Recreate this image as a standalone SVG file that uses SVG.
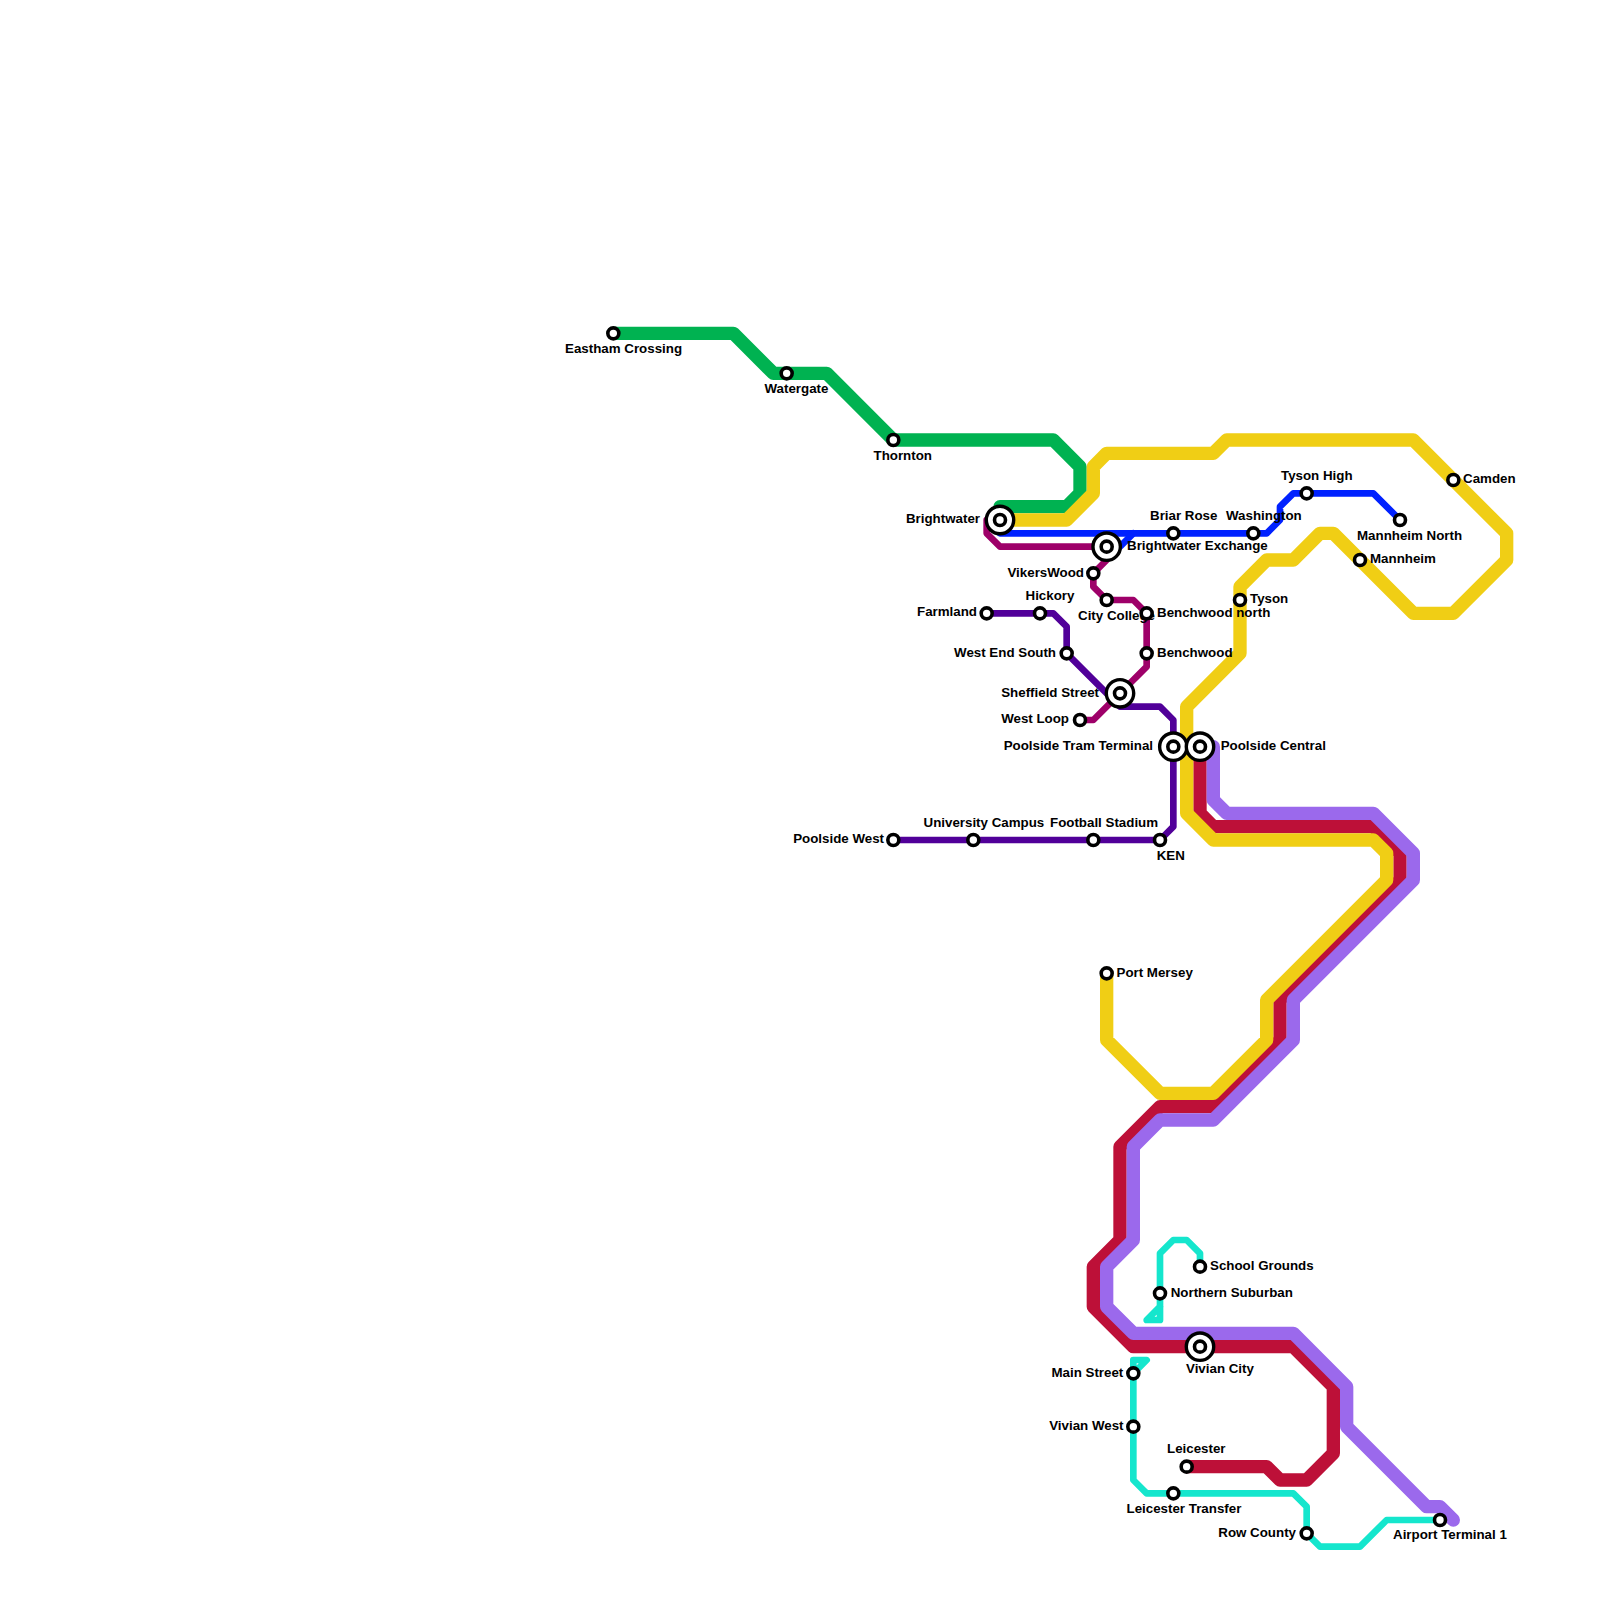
<svg xmlns="http://www.w3.org/2000/svg" xmlns:xlink="http://www.w3.org/1999/xlink" width="1600" height="1600" viewBox="0 0 1600 1600">
<style>
.l{fill:none;stroke-linejoin:round;stroke-linecap:round}
.w1{stroke-width:1}
.w2{stroke-width:.5}
text{font-family:"Liberation Sans",Arial,sans-serif;font-weight:bold;font-size:13.33px;fill:#000}
.e{text-anchor:end}
.ring{fill:#fff;stroke:#000}
</style>
<defs>
<g id="s"><circle class="ring" r="5.5" stroke-width="3.6"/></g>
<g id="x"><circle class="ring" r="13.7" stroke-width="3.4"/><circle class="ring" r="5.5" stroke-width="3.6"/></g>
</defs>
<rect width="1600" height="1600" fill="#fff"/>
<g id="connectors" transform="scale(13.33333)">
<path class="l w1" stroke="#00b251" d="M46 25H55L58 28H62L67 33H79L81 35V37L80 38H75V39"/>
<path class="l w1" stroke="#bd1038" d="M90 56V61L91 62H103L105 64V66L96 75V78L91 83H87L84 86V93L82 95V98L85 101H97L100 104V109L98 111H96L95 110H89"/>
<path class="l w1" stroke="#9b69ec" d="M90 56H91V60L92 61H103L106 64V66L97 75V78L91 84H87L85 86V93L83 95V98L85 100H97L101 104V107L107 113H108L109 114"/>
<path class="l w1" stroke="#f0ce15" d="M75 39H80L82 37V35L83 34H91L92 33H106L113 40V42L109 46H106L100 40H99L97 42H95L93 44V49L89 53V61L91 63H103L104 64V66L95 75V78L91 82H87L83 78V73"/>
<path class="l w2" stroke="#0021ff" d="M75 39V40H95L96 39V38L97 37H103L105 39"/>
<path class="l w2" stroke="#0021ff" d="M83 41H84L85 40"/>
<path class="l w2" stroke="#9e0069" d="M75 39H74V40L75 41H83V42L82 43V44L83 45H85L86 46V50L82 54H81"/>
<path class="l w2" stroke="#510099" d="M74 46H79L80 47V49L84 53H87L88 54V62L87 63H67"/>
<path class="l w2" stroke="#15e6cd" d="M90 95V94L89 93H88L87 94V99H86L87 98M86 102H85V103ZM85 102V111L86 112H97L98 113V115L99 116H102L104 114H108"/>
</g>
<g id="n-eastham"><text x="565" y="353">Eastham Crossing</text><use xlink:href="#s" href="#s" x="613.33" y="333.33"/></g>
<g id="n-watergate"><text x="764.5" y="393">Watergate</text><use xlink:href="#s" href="#s" x="786.67" y="373.33"/></g>
<g id="n-thornton"><text x="873.5" y="460">Thornton</text><use xlink:href="#s" href="#s" x="893.33" y="440"/></g>
<g id="n-brightwater"><text class="e" x="980" y="523">Brightwater</text><use xlink:href="#x" href="#x" x="1000" y="520"/></g>
<g id="n-brightwater-exchange"><text x="1127" y="550">Brightwater Exchange</text><use xlink:href="#x" href="#x" x="1106.67" y="546.67"/></g>
<g id="n-briar"><text x="1150" y="520">Briar Rose</text><use xlink:href="#s" href="#s" x="1173.33" y="533.33"/></g>
<g id="n-washington"><text x="1226" y="520">Washington</text><use xlink:href="#s" href="#s" x="1253.33" y="533.33"/></g>
<g id="n-tyson-high"><text x="1281" y="480">Tyson High</text><use xlink:href="#s" href="#s" x="1306.67" y="493.33"/></g>
<g id="n-mannheim-north"><text x="1357" y="540">Mannheim North</text><use xlink:href="#s" href="#s" x="1400" y="520"/></g>
<g id="n-camden"><text x="1463" y="483">Camden</text><use xlink:href="#s" href="#s" x="1453.33" y="480"/></g>
<g id="n-mannheim"><text x="1370" y="563">Mannheim</text><use xlink:href="#s" href="#s" x="1360" y="560"/></g>
<g id="n-tyson"><text x="1250" y="603">Tyson</text><use xlink:href="#s" href="#s" x="1240" y="600"/></g>
<g id="n-vikerswood"><text class="e" x="1084" y="577">VikersWood</text><use xlink:href="#s" href="#s" x="1093.33" y="573.33"/></g>
<g id="n-hickory"><text x="1025.5" y="600">Hickory</text><use xlink:href="#s" href="#s" x="1040" y="613.33"/></g>
<g id="n-farmland"><text class="e" x="977" y="616">Farmland</text><use xlink:href="#s" href="#s" x="986.67" y="613.33"/></g>
<g id="n-city-college"><text x="1078" y="620">City College</text><use xlink:href="#s" href="#s" x="1106.67" y="600"/></g>
<g id="n-benchwood-north"><text x="1157" y="617">Benchwood north</text><use xlink:href="#s" href="#s" x="1146.67" y="613.33"/></g>
<g id="n-benchwood"><text x="1157" y="657">Benchwood</text><use xlink:href="#s" href="#s" x="1146.67" y="653.33"/></g>
<g id="n-west-end-south"><text class="e" x="1056" y="657">West End South</text><use xlink:href="#s" href="#s" x="1066.67" y="653.33"/></g>
<g id="n-sheffield"><text class="e" x="1099" y="697">Sheffield Street</text><use xlink:href="#x" href="#x" x="1120" y="693.33"/></g>
<g id="n-west-loop"><text class="e" x="1069" y="723">West Loop</text><use xlink:href="#s" href="#s" x="1080" y="720"/></g>
<g id="n-poolside-tram"><text class="e" x="1153" y="750">Poolside Tram Terminal</text><use xlink:href="#x" href="#x" x="1173.33" y="746.67"/></g>
<g id="n-poolside-central"><text x="1220.7" y="750">Poolside Central</text><use xlink:href="#x" href="#x" x="1200" y="746.67"/></g>
<g id="n-poolside-west"><text class="e" x="884" y="843">Poolside West</text><use xlink:href="#s" href="#s" x="893.33" y="840"/></g>
<g id="n-university"><text x="923.5" y="827">University Campus</text><use xlink:href="#s" href="#s" x="973.33" y="840"/></g>
<g id="n-football"><text x="1050" y="827">Football Stadium</text><use xlink:href="#s" href="#s" x="1093.33" y="840"/></g>
<g id="n-ken"><text x="1156.7" y="860">KEN</text><use xlink:href="#s" href="#s" x="1160" y="840"/></g>
<g id="n-port-mersey"><text x="1116.5" y="977">Port Mersey</text><use xlink:href="#s" href="#s" x="1106.67" y="973.33"/></g>
<g id="n-school"><text x="1210" y="1270">School Grounds</text><use xlink:href="#s" href="#s" x="1200" y="1266.67"/></g>
<g id="n-northern"><text x="1170.7" y="1297">Northern Suburban</text><use xlink:href="#s" href="#s" x="1160" y="1293.33"/></g>
<g id="n-vivian-city"><text x="1186" y="1373">Vivian City</text><use xlink:href="#x" href="#x" x="1200" y="1346.67"/></g>
<g id="n-main"><text class="e" x="1123.3" y="1377">Main Street</text><use xlink:href="#s" href="#s" x="1133.33" y="1373.33"/></g>
<g id="n-vivian-west"><text class="e" x="1123.5" y="1430">Vivian West</text><use xlink:href="#s" href="#s" x="1133.33" y="1426.67"/></g>
<g id="n-leicester"><text x="1167" y="1453">Leicester</text><use xlink:href="#s" href="#s" x="1186.67" y="1466.67"/></g>
<g id="n-leicester-transfer"><text x="1126.5" y="1513">Leicester Transfer</text><use xlink:href="#s" href="#s" x="1173.33" y="1493.33"/></g>
<g id="n-row-county"><text class="e" x="1296" y="1537">Row County</text><use xlink:href="#s" href="#s" x="1306.67" y="1533.33"/></g>
<g id="n-airport"><text x="1393" y="1539">Airport Terminal 1</text><use xlink:href="#s" href="#s" x="1440" y="1520"/></g>
</svg>
